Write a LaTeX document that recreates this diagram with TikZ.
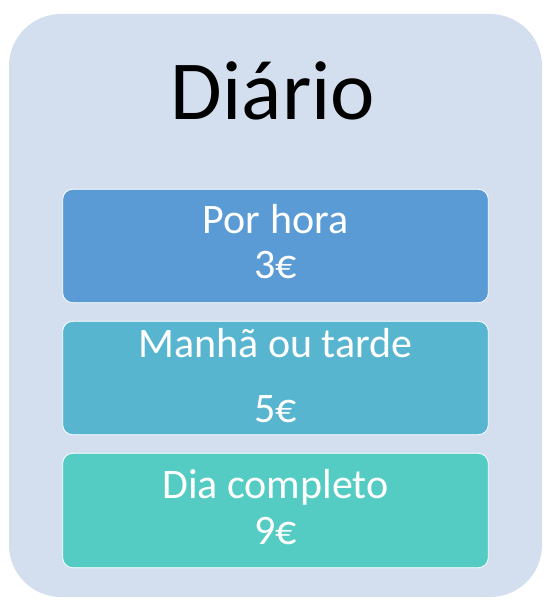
\documentclass[tikz,border=0pt]{standalone}
\usepackage{fontspec}
\setmainfont{Carlito}
\definecolor{outerbg}{HTML}{D3DEEF}
\definecolor{boxA}{HTML}{5B9BD5}
\definecolor{boxB}{HTML}{57B5D0}
\definecolor{boxC}{HTML}{55CCC3}
\tikzset{
  pricebox/.style={draw=white, line width=0.8pt, rounded corners=10pt},
  boxtext/.style={text=white, anchor=base, inner sep=0pt, font=\fontsize{42}{46}\selectfont},
}
\begin{document}
\begin{tikzpicture}[x=1pt,y=-1pt]
\useasboundingbox (0,0) rectangle (553,607);
\fill[outerbg, rounded corners=52pt] (9,14) rectangle (542,597);
\node[anchor=base, inner sep=0pt, font=\fontsize{84}{88}\selectfont] (title) at (273,120) {Diário};
\filldraw[pricebox, fill=boxA] (62.7,189.3) rectangle (488.3,302.7);
\filldraw[pricebox, fill=boxB] (62.7,321.3) rectangle (488.3,434.7);
\filldraw[pricebox, fill=boxC] (62.7,453.3) rectangle (488.3,567.7);
\node[boxtext] (a1) at (275.5,233) {Por hora};
\node[boxtext] (a2) at (275.5,278) {3€};
\node[boxtext] (b1) at (275.5,357) {Manhã ou tarde};
\node[boxtext] (b2) at (275.5,422) {5€};
\node[boxtext] (c1) at (275.5,498) {Dia completo};
\node[boxtext] (c2) at (275.5,544) {9€};
\end{tikzpicture}
\end{document}
